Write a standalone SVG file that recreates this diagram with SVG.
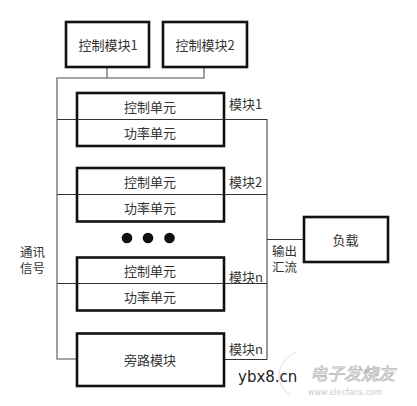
<svg xmlns="http://www.w3.org/2000/svg" width="417" height="406" viewBox="0 0 417 406">
<style>
.box{fill:#fff;stroke:#111;stroke-width:2.6}
.t{font-family:"Noto Sans CJK SC","Liberation Sans",sans-serif;font-size:13px;fill:#333;text-anchor:middle;dominant-baseline:central}
.lbl{font-family:"Noto Sans CJK SC","Liberation Sans",sans-serif;font-size:13px;fill:#333;dominant-baseline:central}
.sm{font-family:"Liberation Sans","Noto Sans CJK SC",sans-serif;font-size:12.5px;fill:#333;dominant-baseline:central}
.bus{fill:none;stroke:#888;stroke-width:1.6}
.w{fill:none;stroke:#333;stroke-width:1}
</style>
<rect width="417" height="406" fill="#fff"/>
<g id="connectors">
<polyline class="bus" points="107,67 107,78 204,78 204,67"/>
<polyline class="bus" points="107,78 57,78 57,359 77,359"/>
<line class="w" x1="57" y1="119.5" x2="267" y2="119.5"/>
<line class="w" x1="57" y1="194.5" x2="267" y2="194.5"/>
<line class="w" x1="57" y1="283.5" x2="267" y2="283.5"/>
<polyline class="w" points="224,359.5 267,359.5 267,119"/>
<line class="w" x1="267" y1="239.5" x2="304" y2="239.5"/>
</g>
<g id="ctrl1"><rect class="box" x="66" y="22" width="83" height="45"/><text class="t" x="108" y="44">控制模块1</text></g>
<g id="ctrl2"><rect class="box" x="163" y="22" width="84" height="45"/><text class="t" x="205" y="44">控制模块2</text></g>
<g id="module1"><rect class="box" x="77" y="93" width="147" height="53"/><line class="w" x1="77" y1="119.5" x2="224" y2="119.5"/><text class="t" x="150" y="106.5">控制单元</text><text class="t" x="150" y="132.5">功率单元</text><text class="lbl" x="229" y="103">模块1</text></g>
<g id="module2"><rect class="box" x="77" y="168" width="147" height="53.5"/><line class="w" x1="77" y1="194.5" x2="224" y2="194.5"/><text class="t" x="150" y="181">控制单元</text><text class="t" x="150" y="207.5">功率单元</text><text class="lbl" x="229" y="181">模块2</text></g>
<g id="dots"><circle cx="127" cy="238" r="5.3" fill="#111"/><circle cx="148" cy="238" r="5.3" fill="#111"/><circle cx="169.5" cy="238" r="5.3" fill="#111"/></g>
<g id="modulen"><rect class="box" x="77" y="257.5" width="147" height="53"/><line class="w" x1="77" y1="283.5" x2="224" y2="283.5"/><text class="t" x="150" y="270.5">控制单元</text><text class="t" x="150" y="296.5">功率单元</text><text class="lbl" x="229" y="276.5">模块n</text></g>
<g id="bypass"><rect class="box" x="77" y="333.5" width="147" height="52.5"/><text class="t" x="150" y="359">旁路模块</text><text class="lbl" x="229" y="348">模块n</text></g>
<g id="load"><rect class="box" x="304" y="217" width="84" height="45"/><text class="t" x="345.5" y="239.5">负载</text></g>
<g id="labels">
<text class="sm" x="272" y="251.5">输出</text><text class="sm" x="272" y="267.5">汇流</text>
<text class="sm" x="20" y="252.5">通讯</text><text class="sm" x="20" y="268.5">信号</text>
</g>
<g id="watermark">
<text x="238" y="377" font-family="DejaVu Sans,sans-serif" font-size="15" fill="#222" dominant-baseline="central">ybx8.cn</text>
<path d="M296,352 C280,360 270,380 290,395" fill="none" stroke="#ddd" stroke-width="1"/>
<text x="310" y="372" font-family="Noto Sans CJK SC,sans-serif" font-size="17" fill="#fff" stroke="#bbb" stroke-width="0.8" dominant-baseline="central" font-style="italic">电子发烧友</text>
<text x="308" y="392" font-family="DejaVu Sans,sans-serif" font-size="8" fill="#ccc" dominant-baseline="central">www.elecfans.com</text>
</g>
</svg>
